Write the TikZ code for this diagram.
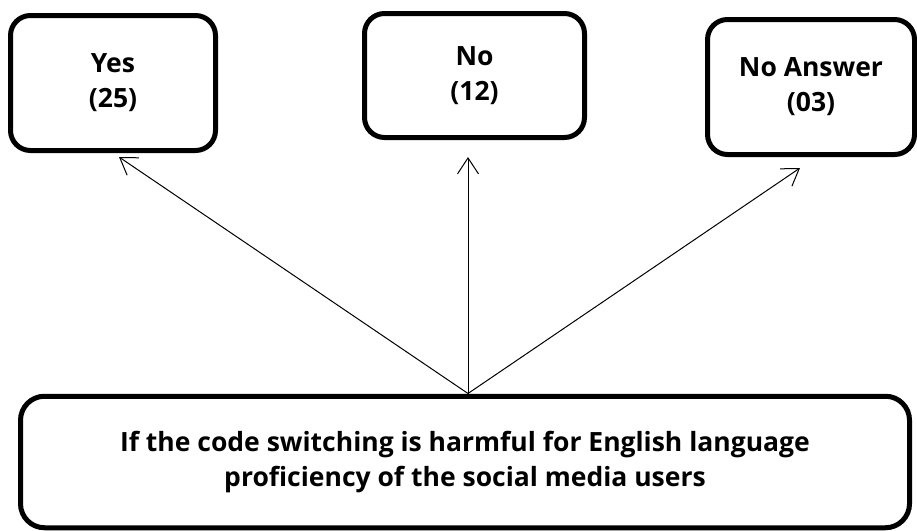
\documentclass[tikz,border=0pt]{standalone}
\usepackage{fontspec}
\setmainfont{Open Sans}
\usetikzlibrary{arrows.meta}

\tikzset{
  answerbox/.style={draw=black, line width=5pt, rounded corners=20pt,
    fill=white, align=center, inner sep=0pt,
    font=\fontsize{26.5}{35}\selectfont\bfseries},
  questionbox/.style={answerbox, rounded corners=24pt},
  link/.style={draw=black, line width=1pt,
    -{Straight Barb[length=16pt, width=21pt, line width=1pt]}},
}

\begin{document}
\begin{tikzpicture}[x=1pt, y=-1pt]
  \useasboundingbox (0,0) rectangle (917,530);

  % answer categories
  \node[answerbox, minimum width=205pt, minimum height=135pt]
    (yes) at (113,83) {Yes\\(25)};
  \node[answerbox, minimum width=220pt, minimum height=124pt]
    (no) at (474.5,75.5) {No\\(12)};
  \node[answerbox, minimum width=207pt, minimum height=135pt]
    (noans) at (811,87) {No Answer\\(03)};

  % the survey question
  \node[questionbox, minimum width=889pt, minimum height=131.5pt]
    (question) at (465,462) {If the code switching is harmful for English language\\proficiency of the social media users};

  % arrow ends below each answer box
  \coordinate (root) at (468,393.5);
  \coordinate (yesend) at (119,157);
  \coordinate (noend) at (468,157);
  \coordinate (noansend) at (800,168);

  \draw[link] (root) -- (yesend);
  \draw[link] (root) -- (noend);
  \draw[link] (root) -- (noansend);
\end{tikzpicture}
\end{document}
